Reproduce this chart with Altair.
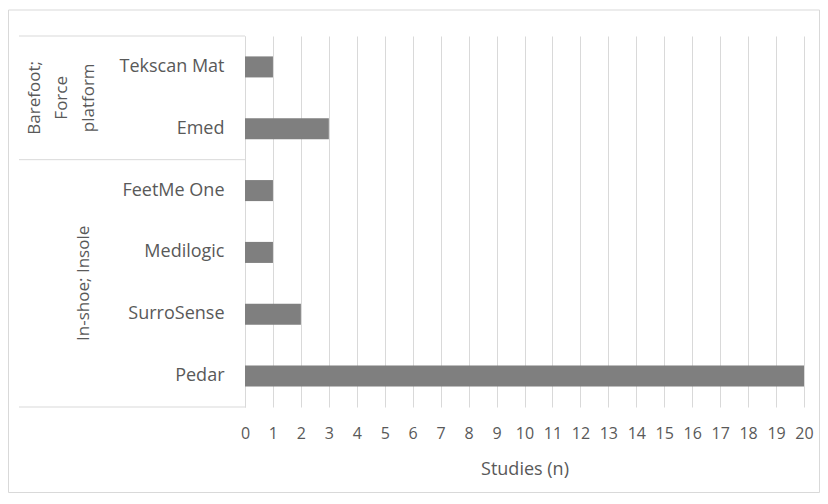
import altair as alt
import pandas as pd

devices = ["Tekscan Mat", "Emed", "FeetMe One", "Medilogic", "SurroSense", "Pedar"]
studies = [1, 3, 1, 1, 2, 20]
groups = ["Barefoot; Force platform"] * 2 + ["In-shoe; Insole"] * 4
group_labels = ["Barefoot;\nForce\nplatform", "In-shoe; Insole"]
x_ticks = list(range(0, 21))

df = pd.DataFrame({"device": devices, "studies": studies, "group": groups})

FONT = "Open Sans"
TXT = "#595959"
GRID = "#d9d9d9"
W, H = 559, 371
step = H / len(devices)

bars = alt.Chart(df).mark_bar(color="#7f7f7f").encode(
    x=alt.X("studies:Q",
            scale=alt.Scale(domain=[0, 20], nice=False),
            axis=alt.Axis(values=x_ticks, grid=True, gridColor=GRID, domain=False,
                          ticks=False, labelFontSize=16, labelColor=TXT, labelFont=FONT,
                          labelFlush=False, labelPadding=18, title="Studies (n)",
                          titleFontSize=18, titleFont=FONT, titleColor=TXT,
                          titleFontWeight="normal", titlePadding=19)),
    y=alt.Y("device:N", sort=devices,
            scale=alt.Scale(paddingInner=0.66, paddingOuter=0.33),
            axis=alt.Axis(title=None, ticks=False, domainColor=GRID, labelFontSize=18,
                          labelColor=TXT, labelFont=FONT, labelPadding=21, grid=False)),
)

one = alt.Data(values=[{}])

frame = alt.Chart(one).mark_rect(fillOpacity=0, stroke=GRID, strokeWidth=1).encode(
    x=alt.value(-236.5), x2=alt.value(574.5), y=alt.value(-26), y2=alt.value(456.5)
)

rules = []
for yy in [0, 2 * step, H]:
    rules.append(alt.Chart(one).mark_rule(color=GRID, strokeWidth=1).encode(
        x=alt.value(-226), x2=alt.value(0), y=alt.value(yy)))

gtxt1 = alt.Chart(one).mark_text(angle=270, fontSize=17, font=FONT, color=TXT,
                                  align="center", baseline="middle", lineBreak="\n",
                                  lineHeight=27, text=group_labels[0]).encode(
    x=alt.value(-210), y=alt.value(step))
gtxt2 = alt.Chart(one).mark_text(angle=270, fontSize=17, font=FONT, color=TXT,
                                  align="center", baseline="middle",
                                  text=group_labels[1]).encode(
    x=alt.value(-161), y=alt.value(4 * step))

chart = alt.layer(frame, *rules, bars, gtxt1, gtxt2).properties(
    width=W, height=H,
    autosize="none",
    padding={"left": 237, "top": 28, "right": 16, "bottom": 87},
).configure_view(stroke=None)

chart.save("out.html", embed_options={"renderer": "svg", "actions": False})
